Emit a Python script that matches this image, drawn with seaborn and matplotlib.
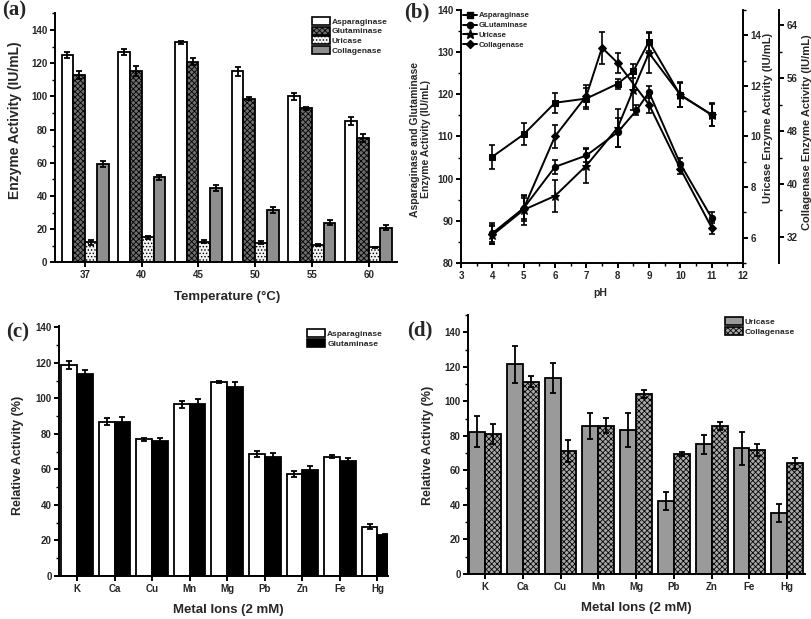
import numpy as np
import pandas as pd
import matplotlib
matplotlib.use("Agg")
import matplotlib.pyplot as plt
import seaborn as sns
from matplotlib.lines import Line2D
from matplotlib.patches import Patch
from matplotlib.ticker import MultipleLocator

# ---------------- data ----------------
# (a) temperature
temps = ["37", "40", "45", "50", "55", "60"]
enz_a = ["Asparaginase", "Glutaminase", "Uricase", "Collagenase"]
asp_temp = [125.0, 127.0, 132.5, 115.0, 100.0, 85.0]
asp_temp_err = [2.0, 1.8, 1.0, 2.5, 2.2, 2.5]
glu_temp = [113.0, 115.0, 121.0, 98.6, 92.8, 74.8]
glu_temp_err = [2.5, 3.0, 2.0, 1.0, 0.8, 2.5]
uri_temp = [12.0, 15.0, 12.5, 11.8, 10.4, 9.0]
uri_temp_err = [1.5, 0.7, 0.7, 1.0, 0.7, 0.5]
col_temp = [59.3, 51.2, 44.8, 31.5, 23.9, 20.9]
col_temp_err = [2.0, 1.5, 2.0, 2.0, 1.5, 1.5]

# (b) pH
ph_asp = [4, 5, 6, 7, 8, 8.5, 9, 10, 11]
asp_ph = [105.2, 110.5, 118.0, 119.0, 122.5, 125.5, 132.5, 119.8, 115.2]
asp_ph_err = [2.8, 2.6, 2.4, 2.5, 1.2, 1.6, 2.2, 2.8, 2.8]
ph_glu = [4, 5, 6, 7, 8, 8.6, 9, 10, 11]
glu_ph = [87.0, 93.0, 102.8, 105.5, 111.0, 116.2, 120.5, 103.5, 90.7]
glu_ph_err = [2.5, 3.0, 1.7, 1.5, 3.5, 1.2, 1.4, 1.4, 1.3]
ph_uri = [4, 5, 6, 7, 8, 8.5, 9, 10, 11]
uri_ph = [6.1, 7.1, 7.65, 8.85, 10.35, 11.85, 13.3, 11.65, 10.85]
uri_ph_err = [0.35, 0.6, 0.65, 0.7, 0.75, 0.8, 0.8, 0.5, 0.45]
ph_col = [4, 5, 6, 7, 7.5, 8, 9, 10, 11]
col_ph = [32.5, 36.3, 47.2, 53.3, 60.6, 58.3, 52.0, 42.3, 33.4]
col_ph_err = [1.3, 1.6, 1.7, 1.6, 2.4, 1.5, 1.3, 0.8, 1.0]

# (c), (d) metal ions
metals = ["K", "Ca", "Cu", "Mn", "Mg", "Pb", "Zn", "Fe", "Hg"]
asp_metal = [118.8, 86.9, 76.9, 96.6, 109.4, 68.7, 57.4, 67.2, 27.8]
asp_metal_err = [2.5, 1.8, 0.7, 2.0, 0.5, 1.8, 1.5, 1.0, 1.5]
glu_metal = [113.7, 86.5, 76.2, 96.8, 106.2, 66.8, 59.7, 64.9, 23.1]
glu_metal_err = [2.5, 3.0, 1.5, 2.8, 3.0, 2.5, 2.2, 1.5, 0.5]
uri_metal = [82.4, 121.5, 113.3, 85.7, 83.4, 42.3, 75.1, 72.8, 35.5]
uri_metal_err = [9.1, 10.8, 8.7, 7.3, 10.0, 5.0, 5.5, 9.7, 5.3]
col_metal = [81.1, 111.4, 71.4, 85.9, 104.3, 69.5, 85.9, 71.8, 64.1]
col_metal_err = [5.8, 3.0, 6.3, 4.2, 2.4, 1.2, 2.4, 3.4, 3.2]

# ---------------- style ----------------
sns.set_style("ticks")
plt.rcParams["font.family"] = ["Liberation Sans", "DejaVu Sans"]
plt.rcParams["font.weight"] = "bold"
plt.rcParams["axes.labelweight"] = "bold"
plt.rcParams["hatch.linewidth"] = 0.6
plt.rcParams["xtick.direction"] = "out"
plt.rcParams["ytick.direction"] = "out"

fig = plt.figure(figsize=(8.12, 6.19), dpi=100)
W, H = 812.0, 619.0


def add_axes(l, r, t, b):
    return fig.add_axes([l / W, (H - b) / H, (r - l) / W, (b - t) / H])


TICK = 7
LW = 1.4


def style_axes(ax):
    for s in ["top", "right"]:
        ax.spines[s].set_visible(False)
    for s in ["left", "bottom"]:
        ax.spines[s].set_linewidth(LW)
        ax.spines[s].set_color("black")
    ax.tick_params(axis="both", which="major", labelsize=TICK, width=LW,
                   length=3.5, color="black", pad=2)
    ax.tick_params(axis="both", which="minor", width=1.0, length=2,
                   color="black")
    for lab in ax.get_xticklabels() + ax.get_yticklabels():
        lab.set_fontweight("bold")


def add_errbars(ax, containers, errs):
    for cont, err in zip(containers, errs):
        xs = [p.get_x() + p.get_width() / 2 for p in cont.patches]
        ys = [p.get_height() for p in cont.patches]
        ax.errorbar(xs, ys, yerr=err, fmt="none", ecolor="black",
                    elinewidth=1.3, capsize=2.0, capthick=1.3, zorder=5)


# ---------------- (a) ----------------
axa = add_axes(55, 397, 13.4, 262.3)
df_a = pd.DataFrame({
    "Temperature": temps * 4,
    "Enzyme": np.repeat(enz_a, len(temps)),
    "Activity": asp_temp + glu_temp + uri_temp + col_temp,
})
sns.barplot(data=df_a, x="Temperature", y="Activity", hue="Enzyme",
            errorbar=None, width=0.83, ax=axa, edgecolor="black",
            linewidth=1.3, palette=["white"] * 4, legend=False)
styles_a = [("white", ""), ("#6e6e6e", "xxxxxx"), ("#f2f2f2", "....."),
            ("#8e8e8e", "")]
for cont, (fc, hatch) in zip(axa.containers, styles_a):
    for p in cont.patches:
        p.set_facecolor(fc)
        p.set_hatch(hatch)
add_errbars(axa, axa.containers,
            [asp_temp_err, glu_temp_err, uri_temp_err, col_temp_err])
axa.set_ylim(0, 150)
axa.set_xlim(-0.53, 5.5)
axa.yaxis.set_major_locator(MultipleLocator(20))
axa.yaxis.set_minor_locator(MultipleLocator(10))
style_axes(axa)
axa.set_xlabel("Temperature (\u00b0C)", fontsize=9.5, fontweight="bold")
axa.set_ylabel("Enzyme Activity (IU/mL)", fontsize=10, fontweight="bold")
axa.xaxis.set_label_coords(0.503, -0.139)
axa.xaxis.label.set_verticalalignment("center")
axa.yaxis.set_label_coords(-0.117, 0.57)
axa.yaxis.label.set_verticalalignment("center")
handles_a = [Patch(facecolor=fc, edgecolor="black", hatch=h, linewidth=1.2)
             for fc, h in styles_a]
axa.legend(handles_a, enz_a, loc="upper left", bbox_to_anchor=(0.751, 0.986),
           frameon=False, borderpad=0, borderaxespad=0,
           labelspacing=0.1, handlelength=2.2, handleheight=1.1,
           handletextpad=0.2, prop={"weight": "bold", "size": 6})

# ---------------- (b) ----------------
axb = add_axes(461, 743, 10, 263)
ax2 = axb.twinx()
ax3 = axb.twinx()
ax3.spines["right"].set_position(("axes", 1.0 + 36.0 / 282.0))

series_b = [
    (axb, ph_asp, asp_ph, asp_ph_err, "s", 4.5, "Asparaginase"),
    (axb, ph_glu, glu_ph, glu_ph_err, "o", 4.5, "GLutaminase"),
    (ax2, ph_uri, uri_ph, uri_ph_err, "*", 6.5, "Uricase"),
    (ax3, ph_col, col_ph, col_ph_err, "D", 4.0, "Collagenase"),
]
handles_b = []
for ax, xs, ys, es, mk, ms, lab in series_b:
    sns.lineplot(x=xs, y=ys, ax=ax, color="black", linewidth=1.4,
                 marker=mk, markersize=ms, markeredgecolor="black",
                 markerfacecolor="black", legend=False)
    ax.errorbar(xs, ys, yerr=es, fmt="none", ecolor="black", elinewidth=1.2,
                capsize=2.0, capthick=1.2)
    handles_b.append(Line2D([0], [0], color="black", lw=1.4, marker=mk,
                            markersize=ms, markerfacecolor="black"))

axb.set_xlim(3, 12)
axb.set_ylim(80, 140)
ax2.set_ylim(5, 15)
ax3.set_ylim(28.05, 66.3)
axb.xaxis.set_major_locator(MultipleLocator(1))
axb.xaxis.set_minor_locator(MultipleLocator(0.5))
axb.yaxis.set_major_locator(MultipleLocator(10))
axb.yaxis.set_minor_locator(MultipleLocator(5))
ax2.yaxis.set_major_locator(MultipleLocator(2))
ax2.yaxis.set_minor_locator(MultipleLocator(1))
ax3.yaxis.set_major_locator(MultipleLocator(8))
ax3.yaxis.set_minor_locator(MultipleLocator(4))
style_axes(axb)
for ax in (ax2, ax3):
    for s in ["top", "left", "bottom"]:
        ax.spines[s].set_visible(False)
    ax.spines["right"].set_visible(True)
    ax.spines["right"].set_linewidth(LW)
    ax.spines["right"].set_color("black")
    ax.tick_params(axis="y", which="major", labelsize=TICK, width=LW,
                   length=3.5, color="black", pad=2)
    ax.tick_params(axis="y", which="minor", width=1.0, length=2,
                   color="black")
    for lab in ax.get_yticklabels():
        lab.set_fontweight("bold")
axb.set_xlabel("pH", fontsize=7.5, fontweight="bold")
axb.set_ylabel("Asparaginase and Glutaminase\nEnzyme Activity (IU/mL)",
               fontsize=7.5, fontweight="bold", linespacing=1.1)
axb.xaxis.set_label_coords(0.493, -0.119)
axb.xaxis.label.set_verticalalignment("center")
axb.yaxis.set_label_coords(-0.145, 0.49)
axb.yaxis.label.set_verticalalignment("center")
ax2.set_ylabel("Uricase Enzyme Activity (IU/mL)", fontsize=8,
               fontweight="bold")
ax2.yaxis.set_label_coords(1.089, 0.573)
ax2.yaxis.label.set_verticalalignment("center")
ax3.set_ylabel("Collagenase Enzyme Activity (IU/mL)", fontsize=8,
               fontweight="bold")
ax3.yaxis.set_label_coords(1.226, 0.519)
ax3.yaxis.label.set_verticalalignment("center")
axb.legend(handles_b, [s[6] for s in series_b], loc="upper left",
           bbox_to_anchor=(0.007, 0.992), frameon=False, borderpad=0,
           borderaxespad=0, labelspacing=0.3, handlelength=1.8,
           handletextpad=0.2, prop={"weight": "bold", "size": 5.6})

# ---------------- (c) ----------------
axc = add_axes(59.3, 388, 325.6, 576)
df_c = pd.DataFrame({
    "Metal": metals * 2,
    "Enzyme": np.repeat(["Asparaginase", "Glutaminase"], len(metals)),
    "Activity": asp_metal + glu_metal,
})
sns.barplot(data=df_c, x="Metal", y="Activity", hue="Enzyme", errorbar=None,
            width=0.84, ax=axc, edgecolor="black", linewidth=1.3,
            palette=["white", "black"], legend=False)
add_errbars(axc, axc.containers, [asp_metal_err, glu_metal_err])
axc.set_ylim(0, 141)
axc.set_xlim(-0.47, 8.28)
axc.yaxis.set_major_locator(MultipleLocator(20))
axc.yaxis.set_minor_locator(MultipleLocator(10))
style_axes(axc)
axc.set_xlabel("Metal Ions (2 mM)", fontsize=9.5, fontweight="bold")
axc.set_ylabel("Relative Activity (%)", fontsize=9, fontweight="bold")
axc.xaxis.set_label_coords(0.513, -0.136)
axc.xaxis.label.set_verticalalignment("center")
axc.yaxis.set_label_coords(-0.125, 0.483)
axc.yaxis.label.set_verticalalignment("center")
handles_c = [Patch(facecolor="white", edgecolor="black", linewidth=1.2),
             Patch(facecolor="black", edgecolor="black", linewidth=1.2)]
axc.legend(handles_c, ["Asparaginase", "Glutaminase"], loc="upper left",
           bbox_to_anchor=(0.754, 0.986), frameon=False, borderpad=0,
           borderaxespad=0, labelspacing=0.1, handlelength=2.2,
           handleheight=1.1, handletextpad=0.2,
           prop={"weight": "bold", "size": 6})

# ---------------- (d) ----------------
axd = add_axes(468.3, 805, 315, 574)
df_d = pd.DataFrame({
    "Metal": metals * 2,
    "Enzyme": np.repeat(["Uricase", "Collagenase"], len(metals)),
    "Activity": uri_metal + col_metal,
})
sns.barplot(data=df_d, x="Metal", y="Activity", hue="Enzyme", errorbar=None,
            width=0.84, ax=axd, edgecolor="black", linewidth=1.3,
            palette=["#9a9a9a", "#a8a8a8"], legend=False)
styles_d = [("#9a9a9a", ""), ("#a8a8a8", "xxxxxx")]
for cont, (fc, hatch) in zip(axd.containers, styles_d):
    for p in cont.patches:
        p.set_facecolor(fc)
        p.set_hatch(hatch)
add_errbars(axd, axd.containers, [uri_metal_err, col_metal_err])
axd.set_ylim(0, 150)
axd.set_xlim(-0.44, 8.47)
axd.yaxis.set_major_locator(MultipleLocator(20))
axd.yaxis.set_minor_locator(MultipleLocator(10))
style_axes(axd)
axd.set_xlabel("Metal Ions (2 mM)", fontsize=9.5, fontweight="bold")
axd.set_ylabel("Relative Activity (%)", fontsize=9, fontweight="bold")
axd.xaxis.set_label_coords(0.5, -0.132)
axd.xaxis.label.set_verticalalignment("center")
axd.yaxis.set_label_coords(-0.119, 0.498)
axd.yaxis.label.set_verticalalignment("center")
handles_d = [Patch(facecolor=fc, edgecolor="black", hatch=h, linewidth=1.2)
             for fc, h in styles_d]
axd.legend(handles_d, ["Uricase", "Collagenase"], loc="upper left",
           bbox_to_anchor=(0.762, 0.992), frameon=False, borderpad=0,
           borderaxespad=0, labelspacing=0.1, handlelength=2.2,
           handleheight=1.1, handletextpad=0.2,
           prop={"weight": "bold", "size": 6})

# ---------------- panel letters ----------------
for lab, (px, py) in {"(a)": (14, 10), "(b)": (417, 12),
                      "(c)": (18, 332), "(d)": (420, 330)}.items():
    fig.text(px / W, 1 - py / H, lab, fontsize=15, fontweight="bold",
             family=["Liberation Serif", "DejaVu Serif"],
             ha="center", va="center")

fig.savefig("out.png", dpi=100)
